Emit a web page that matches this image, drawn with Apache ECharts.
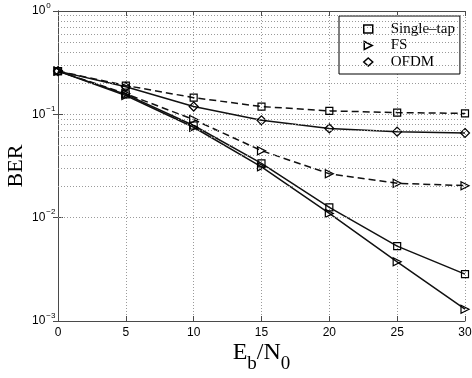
<!DOCTYPE html>
<html>
<head>
<meta charset="utf-8">
<script src="https://cdn.jsdelivr.net/npm/echarts@6/dist/echarts.min.js"></script>
<style>
html, body { margin: 0; padding: 0; background: #fff; }
#chart { width: 472px; height: 378px; }
</style>
</head>
<body>
<div id="chart"></div>
<script>
// Eb/N0 points
var snr = [0, 5, 10, 15, 20, 25, 30];
// BER curves
var singleTapDashed = [0.262, 0.19, 0.145, 0.119, 0.108, 0.104, 0.102];
var singleTapSolid = [0.262, 0.156, 0.078, 0.0335, 0.0126, 0.0053, 0.00284];
var fsDashed = [0.262, 0.158, 0.089, 0.0445, 0.0266, 0.0215, 0.0204];
var fsSolid = [0.262, 0.152, 0.075, 0.031, 0.011, 0.00374, 0.0013];
var ofdmSolid = [0.262, 0.185, 0.119, 0.0875, 0.073, 0.068, 0.066];
var legendNames = ['Single\u2013tap', 'FS', 'OFDM'];
var decades = [0.001, 0.01, 0.1, 1];

// minor grid positions 2..9 x 10^k
var minorGrid = [];
for (var d = 0; d < decades.length - 1; d++) {
	for (var m = 2; m <= 9; m++) {
		minorGrid.push({ yAxis: +(decades[d] * m).toPrecision(3) });
	}
}

var triPath = 'path://M0,0L10,5L0,10Z';
var gridLine = { color: '#9a9a9a', width: 1, type: [1, 2] };

function pairs(arr) {
	var t = [];
	for (var i = 0; i < snr.length; i++) {
		t.push([snr[i], arr[i]]);
	}
	return t;
}

function makeSeries(name, arr, symbol, size, dashed) {
	return {
		name: name,
		type: 'line',
		data: pairs(arr),
		symbol: symbol,
		symbolSize: size,
		showAllSymbol: true,
		z: 3,
		itemStyle: { color: 'rgba(0,0,0,0)', borderColor: '#000', borderWidth: 1.2 },
		lineStyle: { color: '#111', width: 1.5, type: dashed ? [7, 4] : 'solid' },
		emphasis: { disabled: true }
	};
}

var myChart = echarts.init(document.getElementById('chart'), null, { renderer: 'canvas' });

var axisColor = '#4a4a4a';

var option = {
	backgroundColor: '#ffffff',
	animation: false,
	grid: { left: 58, right: 7, top: 11, bottom: 57, outerBoundsMode: 'none', containLabel: false },
	legend: {
		orient: 'vertical',
		left: 339,
		top: 16,
		padding: [5, 5, 4, 24],
		itemGap: 0.5,
		itemWidth: 9,
		itemHeight: 8,
		backgroundColor: '#fff',
		borderColor: '#000',
		borderWidth: 1,
		selectedMode: false,
		itemStyle: { color: 'rgba(0,0,0,0)', borderColor: '#000', borderWidth: 1.5 },
		textStyle: { fontFamily: 'Liberation Serif', fontSize: 15, lineHeight: 16, color: '#000', padding: [0, 0, 0, 13] },
		data: [
			{ name: legendNames[0], icon: 'rect' },
			{ name: legendNames[1], icon: triPath },
			{ name: legendNames[2], icon: 'diamond' }
		]
	},
	xAxis: [{
		type: 'value',
		min: 0,
		max: 30,
		interval: 5,
		name: 'E{sub|b}/N{sub|0}',
		nameLocation: 'middle',
		nameGap: 10,
		nameMoveOverlap: false,
		nameTextStyle: {
			fontFamily: 'Liberation Serif',
			fontSize: 24,
			color: '#000',
			rich: {
				sub: { fontFamily: 'Liberation Serif', fontSize: 19, color: '#000', padding: [24, 0, 0, 0] }
			}
		},
		axisLine: { lineStyle: { color: axisColor, width: 1 } },
		axisTick: { inside: true, length: 5, lineStyle: { color: axisColor } },
		axisLabel: { margin: 6, fontFamily: 'Liberation Sans', fontSize: 12, color: '#000' },
		splitLine: { show: true, lineStyle: gridLine }
	}, {
		type: 'value',
		position: 'top',
		min: 0,
		max: 30,
		interval: 5,
		axisLine: { show: true, lineStyle: { color: axisColor, width: 1 } },
		axisTick: { show: true, inside: true, length: 5, lineStyle: { color: axisColor } },
		axisLabel: { show: false },
		splitLine: { show: false }
	}],
	yAxis: [{
		type: 'log',
		logBase: 10,
		min: 0.001,
		max: 1,
		name: 'BER',
		nameLocation: 'middle',
		nameGap: 31,
		nameMoveOverlap: false,
		nameTextStyle: { fontFamily: 'Liberation Serif', fontSize: 22, color: '#000' },
		axisLine: { show: true, lineStyle: { color: axisColor, width: 1 } },
		axisTick: { inside: true, length: 5, lineStyle: { color: axisColor } },
		axisLabel: {
			align: 'left',
			margin: 26,
			formatter: function (v) {
				var e = Math.round(Math.log(v) / Math.LN10);
				return '{b|10}{sup|' + (e < 0 ? '\u2212' + (-e) : e) + '}';
			},
			rich: {
				b: { fontFamily: 'Liberation Sans', fontSize: 12, color: '#000' },
				sup: { fontFamily: 'Liberation Sans', fontSize: 8, color: '#000', padding: [0, 0, 11, 1] }
			}
		},
		splitLine: { show: true, lineStyle: gridLine }
	}, {
		type: 'log',
		logBase: 10,
		min: 0.001,
		max: 1,
		position: 'right',
		axisLine: { show: true, lineStyle: { color: axisColor, width: 1 } },
		axisTick: { show: true, inside: true, length: 5, lineStyle: { color: axisColor } },
		axisLabel: { show: false },
		splitLine: { show: false }
	}],
	series: [
		{
			type: 'line',
			data: [],
			silent: true,
			markLine: {
				silent: true,
				symbol: 'none',
				label: { show: false },
				lineStyle: gridLine,
				emphasis: { disabled: true },
				animation: false,
				data: minorGrid
			}
		},
		makeSeries(legendNames[0], singleTapDashed, 'rect', 7, true),
		makeSeries(legendNames[1], fsDashed, triPath, 8, true),
		makeSeries(legendNames[2], ofdmSolid, 'diamond', 9, false),
		makeSeries(legendNames[0], singleTapSolid, 'rect', 7, false),
		makeSeries(legendNames[1], fsSolid, triPath, 8, false)
	]
};
myChart.setOption(option);
</script>
</body>
</html>
